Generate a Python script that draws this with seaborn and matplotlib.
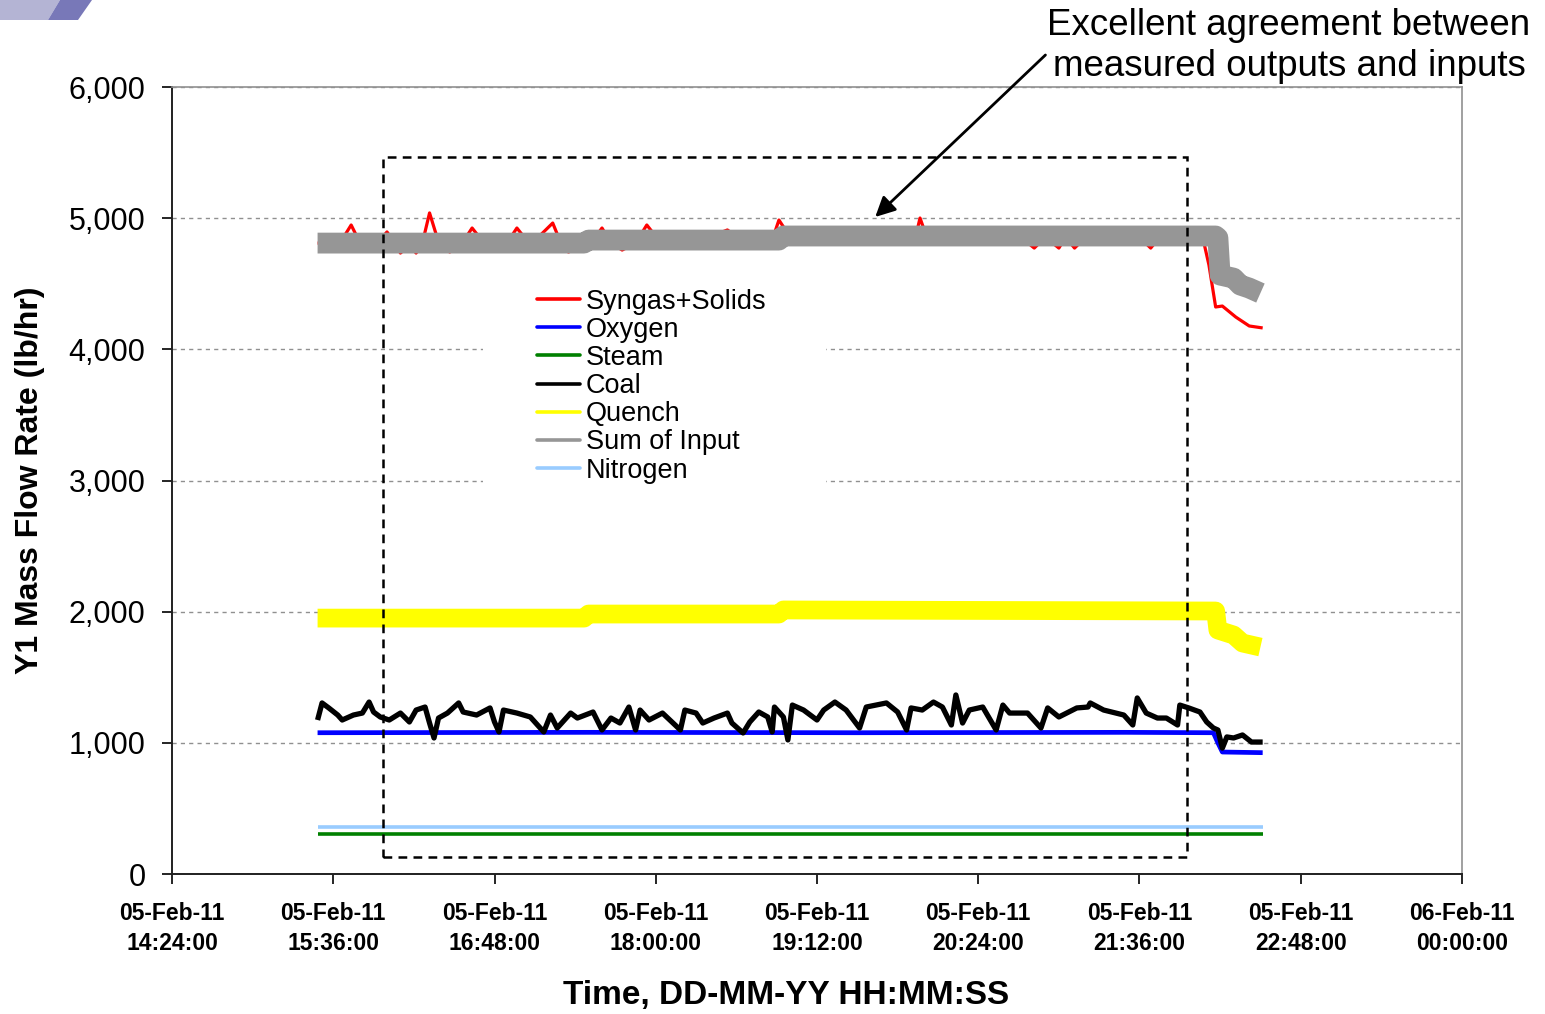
import matplotlib
matplotlib.use("Agg")
import matplotlib.pyplot as plt
import matplotlib.dates as mdates
from matplotlib.patches import Rectangle, Polygon
from matplotlib.lines import Line2D
from matplotlib.ticker import FuncFormatter
import seaborn as sns
import pandas as pd

DAY = "2011-02-05"

# ---------------- data ----------------
coal_t = ["15:29", "15:31", "15:34", "15:38", "15:40", "15:45", "15:49", "15:52", "15:54", "15:57",
          "16:01", "16:06", "16:10", "16:13", "16:17", "16:19", "16:21", "16:23", "16:27", "16:32",
          "16:34", "16:40", "16:46", "16:48", "16:50", "16:52", "16:58", "17:04", "17:10", "17:13",
          "17:16", "17:22", "17:25", "17:32", "17:36", "17:40", "17:44", "17:48", "17:51", "17:53",
          "17:57", "18:03", "18:11", "18:13", "18:18", "18:21", "18:26", "18:32", "18:34", "18:39",
          "18:42", "18:46", "18:50", "18:52", "18:53", "18:57", "18:59", "19:01", "19:06", "19:12",
          "19:15", "19:20", "19:25", "19:31", "19:34", "19:43", "19:48", "19:52", "19:54", "19:59",
          "20:04", "20:08", "20:12", "20:14", "20:17", "20:20", "20:26", "20:32", "20:35", "20:38",
          "20:46", "20:52", "20:55", "21:00", "21:08", "21:13", "21:14", "21:20", "21:29", "21:33",
          "21:35", "21:39", "21:44", "21:48", "21:53", "21:54", "21:58", "22:03", "22:06", "22:09",
          "22:11", "22:13", "22:15", "22:18", "22:22", "22:26", "22:31"]
coal_v = [1174, 1304, 1266, 1212, 1174, 1212, 1227, 1311, 1235, 1197,
          1174, 1227, 1159, 1250, 1273, 1151, 1037, 1189, 1227, 1304,
          1235, 1212, 1266, 1159, 1083, 1250, 1227, 1197, 1083, 1212,
          1113, 1227, 1189, 1235, 1098, 1189, 1151, 1273, 1098, 1250,
          1174, 1227, 1098, 1250, 1227, 1151, 1189, 1227, 1151, 1075,
          1159, 1235, 1197, 1083, 1273, 1197, 1022, 1288, 1250, 1174,
          1250, 1311, 1250, 1113, 1273, 1304, 1235, 1098, 1266, 1250,
          1311, 1273, 1136, 1365, 1151, 1250, 1273, 1098, 1288, 1227,
          1227, 1113, 1266, 1197, 1266, 1273, 1304, 1250, 1212, 1136,
          1342, 1227, 1189, 1189, 1136, 1288, 1266, 1235, 1159, 1113,
          1098, 960, 1045, 1037, 1060, 1006, 1006]

oxygen_t = ["15:29", "17:30", "19:30", "21:30", "22:09", "22:11", "22:13", "22:31"]
oxygen_v = [1077, 1080, 1077, 1080, 1077, 1000, 930, 925]

steam_t = ["15:29", "22:31"]
steam_v = [305, 305]

nitrogen_t = ["15:29", "22:31"]
nitrogen_v = [360, 360]

quench_t = ["15:29", "17:28", "17:30", "18:55", "18:57", "22:10", "22:11", "22:18", "22:22", "22:30"]
quench_v = [1951, 1951, 1982, 1982, 2013, 2005, 1860, 1822, 1761, 1730]

syngas_t = ["15:29", "15:39", "15:44", "15:48", "15:55", "16:00", "16:04", "16:06", "16:10", "16:13",
            "16:16", "16:19", "16:23", "16:28", "16:33", "16:38", "16:44", "16:53", "16:58", "17:04",
            "17:14", "17:18", "17:21", "17:31", "17:36", "17:40", "17:45", "17:51", "17:56", "18:02",
            "18:12", "18:18", "18:32", "18:38", "18:52", "18:55", "19:00", "19:07", "19:56", "19:58",
            "20:01", "20:43", "20:49", "20:54", "21:00", "21:03", "21:07", "21:12", "21:36", "21:41",
            "21:45", "22:03", "22:05", "22:07", "22:10", "22:13", "22:19", "22:25", "22:31"]
syngas_v = [4810, 4810, 4948, 4810, 4795, 4895, 4795, 4734, 4795, 4734,
            4825, 5040, 4818, 4742, 4795, 4925, 4795, 4795, 4925, 4795,
            4963, 4795, 4742, 4810, 4925, 4810, 4757, 4810, 4948, 4818,
            4895, 4818, 4910, 4833, 4833, 4986, 4856, 4856, 4856, 5001,
            4856, 4856, 4772, 4856, 4772, 4856, 4772, 4856, 4856, 4772,
            4856, 4833, 4795, 4643, 4323, 4330, 4246, 4178, 4163]

suminput_t = ["15:29", "17:28", "17:30", "18:55", "18:57", "22:10", "22:11", "22:12", "22:18", "22:21", "22:25", "22:30"]
suminput_v = [4810, 4810, 4833, 4833, 4864, 4864, 4850, 4566, 4543, 4490, 4467, 4429]

box_t = ["15:58", "21:57"]
box_v = [130, 5465]

arrow_tail = ("20:54", 6244)
arrow_head = ("19:38", 5009)

tick_times = ["2011-02-05 14:24", "2011-02-05 15:36", "2011-02-05 16:48", "2011-02-05 18:00",
              "2011-02-05 19:12", "2011-02-05 20:24", "2011-02-05 21:36", "2011-02-05 22:48",
              "2011-02-06 00:00"]
tick_labels = ["05-Feb-11\n14:24:00", "05-Feb-11\n15:36:00", "05-Feb-11\n16:48:00",
               "05-Feb-11\n18:00:00", "05-Feb-11\n19:12:00", "05-Feb-11\n20:24:00",
               "05-Feb-11\n21:36:00", "05-Feb-11\n22:48:00", "06-Feb-11\n00:00:00"]
y_ticks = [0, 1000, 2000, 3000, 4000, 5000, 6000]

series = [
    ("Syngas+Solids", syngas_t, syngas_v, "#ff0000", 2.3),
    ("Oxygen", oxygen_t, oxygen_v, "#0000ff", 3.4),
    ("Steam", steam_t, steam_v, "#008000", 2.6),
    ("Coal", coal_t, coal_v, "#000000", 3.8),
    ("Quench", quench_t, quench_v, "#ffff00", 13.5),
    ("Sum of Input", suminput_t, suminput_v, "#969696", 15),
    ("Nitrogen", nitrogen_t, nitrogen_v, "#99ccff", 2.6),
]
draw_order = ["Steam", "Nitrogen", "Oxygen", "Coal", "Quench", "Syngas+Solids", "Sum of Input"]


def ts(hm):
    return pd.Timestamp(f"{DAY} {hm}")


# ---------------- figure ----------------
sns.set_theme(style="white")
plt.rcParams["font.family"] = ["Liberation Sans", "DejaVu Sans"]
plt.rcParams["text.color"] = "black"
plt.rcParams["axes.labelcolor"] = "black"
plt.rcParams["xtick.color"] = "black"
plt.rcParams["ytick.color"] = "black"

fig = plt.figure(figsize=(15.45, 10.14), dpi=100)
ax = fig.add_axes([172 / 1545, 1 - 874 / 1014, 1290 / 1545, 787 / 1014])

lookup = {s[0]: s for s in series}
for name in draw_order:
    _, t, v, col, lw = lookup[name]
    df = pd.DataFrame({"time": [ts(x) for x in t], "value": v})
    sns.lineplot(data=df, x="time", y="value", ax=ax, color=col, linewidth=lw,
                 solid_capstyle="butt", solid_joinstyle="round", legend=False, zorder=3)

ax.set_xlim(pd.Timestamp(tick_times[0]), pd.Timestamp(tick_times[-1]))
ax.set_ylim(y_ticks[0], y_ticks[-1])
ax.set_xticks([pd.Timestamp(x) for x in tick_times])
ax.set_xticklabels(tick_labels, fontsize=16.5, fontweight="bold", linespacing=1.4)
ax.set_yticks(y_ticks)
ax.yaxis.set_major_formatter(FuncFormatter(lambda v, p: f"{int(v):,}"))
ax.tick_params(axis="y", labelsize=22, length=7, width=1.2, direction="out", pad=12,
               left=True, colors="black")
ax.tick_params(axis="x", length=7, width=1.2, direction="out", pad=13, bottom=True, colors="black")

ax.yaxis.grid(True, linestyle=(0, (3, 3)), color="#909090", linewidth=1.0, zorder=0.5)
ax.xaxis.grid(False)
ax.set_axisbelow(True)

for side in ["left", "bottom"]:
    ax.spines[side].set_color("#202020")
    ax.spines[side].set_linewidth(1.4)
for side in ["top", "right"]:
    ax.spines[side].set_color("#909090")
    ax.spines[side].set_linewidth(1.2)

ax.set_xlabel("Time, DD-MM-YY HH:MM:SS", fontsize=24, fontweight="bold")
ax.set_ylabel("Y1 Mass Flow Rate (lb/hr)", fontsize=23, fontweight="bold")
ax.xaxis.set_label_coords(0.476, -0.155)
ax.yaxis.set_label_coords(-0.110, 0.5)
ax.xaxis.label.set_va("center")
ax.yaxis.label.set_va("center")

# dashed highlight rectangle
x0 = mdates.date2num(ts(box_t[0]))
x1 = mdates.date2num(ts(box_t[1]))
ax.add_patch(Rectangle((x0, box_v[0]), x1 - x0, box_v[1] - box_v[0], fill=False,
                       edgecolor="black", linewidth=1.8, linestyle=(0, (3.5, 2.5)), zorder=6))

# white legend background (hides the grid only)
ax.add_patch(Rectangle((0.241, 0.424), 0.266, 0.354, transform=ax.transAxes,
                       facecolor="white", edgecolor="none", zorder=1))

# legend
handles = [Line2D([0], [0], color=s[3], linewidth=2.6) for s in series]
labels = [s[0] for s in series]
leg = ax.legend(handles, labels, loc="upper left", bbox_to_anchor=(0.2725, 0.761),
                borderaxespad=0, borderpad=0.5, fontsize=19.5, handlelength=1.59,
                handletextpad=0.22, labelspacing=0.08, frameon=False)

# annotation
ax.annotate("", xy=(mdates.date2num(ts(arrow_head[0])), arrow_head[1]),
            xytext=(mdates.date2num(ts(arrow_tail[0])), arrow_tail[1]),
            arrowprops=dict(arrowstyle="-|>", color="black", lw=2, mutation_scale=30,
                            shrinkA=0, shrinkB=0),
            annotation_clip=False)
fig.text(1289 / 1545, 1 - 46 / 1014, "Excellent agreement between\nmeasured outputs and inputs",
         ha="center", va="center", multialignment="center", fontsize=26.5, linespacing=1.25)

# corner logo fragment
fig.patches.append(Polygon([[0, 1], [60 / 1545, 1], [48 / 1545, 1 - 20 / 1014], [0, 1 - 20 / 1014]],
                           closed=True, transform=fig.transFigure, facecolor="#b4b4d4",
                           edgecolor="none", zorder=0))
fig.patches.append(Polygon([[60 / 1545, 1], [92 / 1545, 1], [78 / 1545, 1 - 20 / 1014], [48 / 1545, 1 - 20 / 1014]],
                           closed=True, transform=fig.transFigure, facecolor="#7878b8",
                           edgecolor="none", zorder=0))

fig.savefig("out.png", dpi=100)
